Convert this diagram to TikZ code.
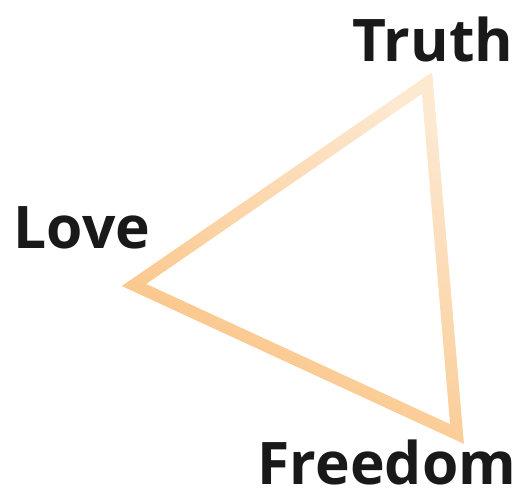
\documentclass[tikz,border=0pt]{standalone}
\usepackage{fontspec}
\setmainfont{Open Sans}
\usetikzlibrary{fadings}
\definecolor{edgelight}{HTML}{FDE8D0}
\definecolor{edgeorange}{HTML}{FBC280}

\begin{document}
\begin{tikzpicture}[
  x=0.01cm, y=-0.01cm,
  word/.style={font=\fontsize{16.7}{18}\selectfont\bfseries, text=black!90, inner sep=0pt, anchor=base west},
  edge/.style={line width=0.12cm, line join=miter}
]
  \useasboundingbox (0,0) rectangle (520,493);
  \coordinate (truthpt) at (427,83);
  \coordinate (lovept) at (134,285);
  \coordinate (freedompt) at (457,434);

  \node[word] (truth) at (352,61) {Truth};
  \node[word] (love) at (13,248) {Love};
  \node[word] (freedom) at (257,484) {Freedom};

  \draw[edge, edgelight] (truthpt) -- (lovept) -- (freedompt) -- cycle;
  \draw[edge, edgeorange, path fading=north, fading angle=-30] (truthpt) -- (lovept) -- (freedompt) -- cycle;
\end{tikzpicture}
\end{document}
